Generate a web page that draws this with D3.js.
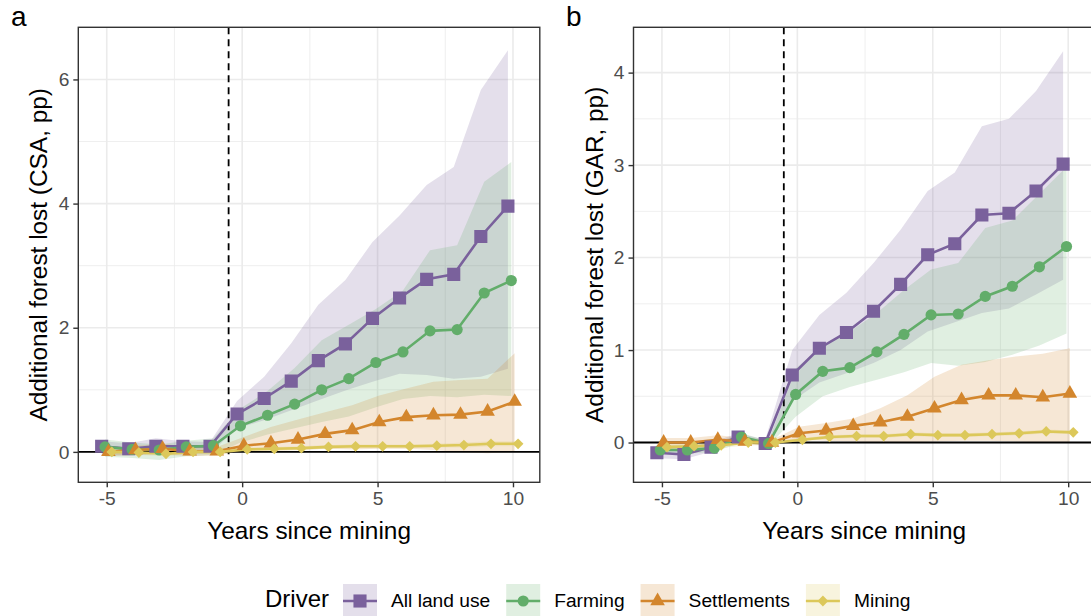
<!DOCTYPE html>
<html>
<head>
<meta charset="utf-8">
<script src="https://cdn.jsdelivr.net/npm/d3@7"></script>
<style>
  body { margin: 0; background: #fff; }
  svg { display: block; font-family: "Liberation Sans", Arial, sans-serif; }
</style>
</head>
<body>
<svg id="chart" width="1091" height="616"></svg>
<script>
// years since mining
var years = [-5, -4, -3, -2, -1, 0, 1, 2, 3, 4, 5, 6, 7, 8, 9, 10];
var drivers = ["All land use", "Farming", "Settlements", "Mining"];

// panel a: CSA
var csaAll    = [0.09, 0.05, 0.09, 0.09, 0.09, 0.61, 0.86, 1.14, 1.47, 1.74, 2.15, 2.48, 2.78, 2.86, 3.47, 3.96];
var csaAllLo  = [-0.05, -0.06, -0.03, -0.03, -0.02, 0.38, 0.51, 0.67, 0.83, 0.99, 1.13, 1.26, 1.24, 1.18, 1.21, 1.34];
var csaAllHi  = [0.17, 0.14, 0.22, 0.17, 0.16, 0.82, 1.21, 1.75, 2.37, 2.77, 3.38, 3.81, 4.30, 4.59, 5.83, 6.47];
var csaFarm   = [0.08, 0.04, 0.03, 0.08, 0.10, 0.42, 0.59, 0.77, 1.00, 1.18, 1.44, 1.61, 1.95, 1.97, 2.56, 2.76];
var csaFarmLo = [-0.08, -0.10, -0.13, -0.07, -0.05, 0.15, 0.28, 0.38, 0.48, 0.57, 0.72, 0.85, 0.90, 0.88, 0.92, 0.90];
var csaFarmHi = [0.20, 0.15, 0.12, 0.18, 0.22, 0.70, 0.98, 1.35, 1.80, 2.05, 2.30, 2.60, 3.25, 3.33, 4.35, 4.67];
var csaSett   = [0.00, 0.03, 0.05, 0.01, 0.01, 0.10, 0.14, 0.20, 0.29, 0.35, 0.48, 0.56, 0.59, 0.60, 0.65, 0.81];
var csaSettLo = [-0.07, -0.05, -0.04, -0.07, -0.06, 0.02, 0.02, 0.03, 0.05, 0.04, 0.05, 0.05, 0.03, 0.00, -0.02, 0.00];
var csaSettHi = [0.07, 0.10, 0.13, 0.08, 0.08, 0.24, 0.40, 0.52, 0.64, 0.75, 0.91, 1.02, 1.13, 1.16, 1.18, 1.59];
var csaMine   = [0.00, -0.01, -0.03, 0.00, 0.00, 0.04, 0.05, 0.06, 0.08, 0.09, 0.09, 0.09, 0.10, 0.11, 0.13, 0.13];
var csaMineLo = [-0.04, -0.05, -0.07, -0.03, -0.03, 0.01, 0.02, 0.03, 0.05, 0.06, 0.06, 0.06, 0.07, 0.07, 0.09, 0.09];
var csaMineHi = [0.04, 0.03, 0.01, 0.03, 0.03, 0.07, 0.08, 0.09, 0.11, 0.12, 0.12, 0.12, 0.13, 0.15, 0.17, 0.17];

// panel b: GAR
var garAll    = [-0.11, -0.13, -0.05, 0.06, -0.01, 0.73, 1.02, 1.19, 1.42, 1.71, 2.03, 2.15, 2.46, 2.48, 2.72, 3.01];
var garAllLo  = [-0.17, -0.18, -0.10, 0.02, -0.04, 0.45, 0.65, 0.75, 0.86, 1.00, 1.20, 1.30, 1.40, 1.45, 1.60, 1.76];
var garAllHi  = [-0.05, -0.06, 0.00, 0.10, 0.03, 1.00, 1.38, 1.62, 1.94, 2.30, 2.72, 2.92, 3.42, 3.50, 3.80, 4.23];
var garFarm   = [-0.08, -0.08, -0.06, 0.06, -0.01, 0.52, 0.77, 0.81, 0.98, 1.17, 1.38, 1.39, 1.58, 1.69, 1.90, 2.12];
var garFarmLo = [-0.12, -0.12, -0.10, 0.00, -0.04, 0.28, 0.50, 0.60, 0.68, 0.76, 0.86, 0.83, 0.87, 0.95, 1.05, 1.18];
var garFarmHi = [-0.03, -0.03, -0.01, 0.10, 0.02, 0.80, 1.05, 1.20, 1.40, 1.65, 1.87, 1.94, 2.32, 2.40, 2.69, 2.98];
var garSett   = [0.00, 0.00, 0.03, 0.01, 0.00, 0.10, 0.13, 0.18, 0.22, 0.28, 0.37, 0.46, 0.51, 0.51, 0.49, 0.53];
var garSettLo = [-0.05, -0.05, -0.02, -0.03, -0.03, 0.03, 0.02, 0.01, 0.00, 0.00, 0.01, 0.02, 0.02, 0.01, 0.00, 0.00];
var garSettHi = [0.05, 0.05, 0.08, 0.05, 0.03, 0.17, 0.21, 0.26, 0.37, 0.51, 0.71, 0.84, 0.89, 0.93, 0.96, 1.02];
var garMine   = [-0.05, -0.04, -0.03, 0.00, 0.00, 0.03, 0.06, 0.07, 0.07, 0.09, 0.08, 0.08, 0.09, 0.10, 0.12, 0.11];
var garMineLo = [-0.08, -0.07, -0.06, -0.03, -0.02, 0.01, 0.04, 0.05, 0.05, 0.07, 0.06, 0.06, 0.07, 0.08, 0.10, 0.09];
var garMineHi = [-0.02, -0.01, 0.00, 0.03, 0.02, 0.05, 0.08, 0.09, 0.09, 0.11, 0.10, 0.10, 0.11, 0.12, 0.14, 0.13];

var xTicks = [-5, 0, 5, 10];
var xMinor = [-2.5, 2.5, 7.5];

var COLORS = ["#7a619c", "#62ad6a", "#d3862d", "#dcc85a"];
var DODGE = [-0.1875, -0.0625, 0.0625, 0.1875];
var SYMBOLS = [
    d3.symbol().type(d3.symbolSquare).size(172),
    d3.symbol().type(d3.symbolCircle).size(98),
    d3.symbol().type(d3.symbolTriangle).size(92),
    d3.symbol().type(d3.symbolSquare).size(58)
];
var ROTATE = [0, 0, 0, 45];

var svg = d3.select("#chart");

function makeSeries(vals) {
    return drivers.map(function(name, k) {
        return years.map(function(yr, i) {
            return { x: yr + DODGE[k], y: vals[k][0][i], lo: vals[k][1][i], hi: vals[k][2][i] };
        });
    });
}

function drawPanel(opt) {
    var x = d3.scaleLinear().domain([-6.05, 10.99]).range([opt.left, opt.left + 461.5]);
    var y = d3.scaleLinear().domain(opt.yDomain).range([482.3, 27.3]);
    var g = svg.append("g");
    var clipId = "clip-" + opt.tag;

    g.append("clipPath").attr("id", clipId)
        .append("rect")
        .attr("x", x.range()[0]).attr("y", 27.3)
        .attr("width", 461.5).attr("height", 455);

    // grid
    var grid = g.append("g");
    grid.selectAll("line.xminor").data(xMinor).enter().append("line")
        .attr("x1", x).attr("x2", x).attr("y1", 27.3).attr("y2", 482.3)
        .attr("stroke", "#ebebeb").attr("stroke-width", 0.8);
    grid.selectAll("line.yminor").data(opt.yMinor).enter().append("line")
        .attr("x1", x.range()[0]).attr("x2", x.range()[1]).attr("y1", y).attr("y2", y)
        .attr("stroke", "#ebebeb").attr("stroke-width", 0.8);
    grid.selectAll("line.xmajor").data(xTicks).enter().append("line")
        .attr("x1", x).attr("x2", x).attr("y1", 27.3).attr("y2", 482.3)
        .attr("stroke", "#ebebeb").attr("stroke-width", 1.6);
    grid.selectAll("line.ymajor").data(opt.yTicks).enter().append("line")
        .attr("x1", x.range()[0]).attr("x2", x.range()[1]).attr("y1", y).attr("y2", y)
        .attr("stroke", "#ebebeb").attr("stroke-width", 1.6);

    var series = makeSeries(opt.vals);
    var plot = g.append("g").attr("clip-path", "url(#" + clipId + ")");

    var area = d3.area()
        .x(function(d) { return x(d.x); })
        .y0(function(d) { return y(d.lo); })
        .y1(function(d) { return y(d.hi); });
    var line = d3.line()
        .x(function(d) { return x(d.x); })
        .y(function(d) { return y(d.y); });

    plot.selectAll("path.ribbon").data(series).enter().append("path")
        .attr("d", area)
        .attr("fill", function(d, k) { return COLORS[k]; })
        .attr("fill-opacity", 0.2);

    // reference lines (under the series)
    plot.append("line")
        .attr("x1", x.range()[0]).attr("x2", x.range()[1])
        .attr("y1", y(0)).attr("y2", y(0))
        .attr("stroke", "#000").attr("stroke-width", 1.9);
    plot.append("line")
        .attr("x1", x(-0.5)).attr("x2", x(-0.5))
        .attr("y1", 27.3).attr("y2", 482.3)
        .attr("stroke", "#000").attr("stroke-width", 1.8)
        .attr("stroke-dasharray", "7,5");

    plot.selectAll("path.line").data(series).enter().append("path")
        .attr("d", line)
        .attr("fill", "none")
        .attr("stroke", function(d, k) { return COLORS[k]; })
        .attr("stroke-width", 2.6);

    series.forEach(function(s, k) {
        plot.selectAll(null).data(s).enter().append("path")
            .attr("d", SYMBOLS[k])
            .attr("transform", function(d) {
                return "translate(" + x(d.x) + "," + y(d.y) + ") rotate(" + ROTATE[k] + ")";
            })
            .attr("fill", COLORS[k]);
    });

    // border
    g.append("rect")
        .attr("x", x.range()[0]).attr("y", 27.3)
        .attr("width", 461.5).attr("height", 455)
        .attr("fill", "none").attr("stroke", "#333").attr("stroke-width", 1.4);

    // axes
    var xAxis = g.append("g").attr("transform", "translate(0,482.3)")
        .call(d3.axisBottom(x).tickValues(xTicks).tickSize(5).tickPadding(4));
    var yAxis = g.append("g").attr("transform", "translate(" + x.range()[0] + ",0)")
        .call(d3.axisLeft(y).tickValues(opt.yTicks).tickSize(5).tickPadding(4).tickFormat(d3.format("d")));
    [xAxis, yAxis].forEach(function(a) {
        a.select(".domain").remove();
        a.selectAll("line").attr("stroke", "#333").attr("stroke-width", 1.4);
        a.selectAll("text").attr("fill", "#4d4d4d")
            .style("font-size", "19.2px").style("font-family", "Liberation Sans, Arial, sans-serif");
    });
    xAxis.selectAll("text").text(function(d) { return d < 0 ? "-" + Math.abs(d) : d; });

    g.append("text")
        .attr("x", (x.range()[0] + x.range()[1]) / 2).attr("y", 539)
        .attr("text-anchor", "middle")
        .style("font-size", "24.4px")
        .text("Years since mining");

    g.append("text")
        .attr("transform", "translate(" + (opt.left - 31) + "," + 254.8 + ") rotate(-90)")
        .attr("text-anchor", "middle")
        .style("font-size", "24.4px")
        .text(opt.yTitle);

    g.append("text")
        .attr("x", opt.tagX).attr("y", 26)
        .style("font-size", "28px")
        .text(opt.tag);
}

drawPanel({
    tag: "a", tagX: 11, left: 78.3,
    yDomain: [-0.49, 6.84], yTicks: [0, 2, 4, 6], yMinor: [1, 3, 5],
    yTitle: "Additional forest lost (CSA, pp)",
    vals: [[csaAll, csaAllLo, csaAllHi], [csaFarm, csaFarmLo, csaFarmHi],
           [csaSett, csaSettLo, csaSettHi], [csaMine, csaMineLo, csaMineHi]]
});

drawPanel({
    tag: "b", tagX: 566, left: 633.5,
    yDomain: [-0.43, 4.49], yTicks: [0, 1, 2, 3, 4], yMinor: [0.5, 1.5, 2.5, 3.5],
    yTitle: "Additional forest lost (GAR, pp)",
    vals: [[garAll, garAllLo, garAllHi], [garFarm, garFarmLo, garFarmHi],
           [garSett, garSettLo, garSettHi], [garMine, garMineLo, garMineHi]]
});

// legend
var legend = svg.append("g");
var lx = 265;
var title = legend.append("text")
    .attr("x", lx).attr("y", 607)
    .style("font-size", "24px")
    .text("Driver");
lx += title.node().getComputedTextLength() + 14;

drivers.forEach(function(name, k) {
    var key = legend.append("g").attr("transform", "translate(" + lx + ",584)");
    key.append("rect")
        .attr("width", 34).attr("height", 35)
        .attr("fill", COLORS[k]).attr("fill-opacity", 0.2);
    key.append("line")
        .attr("x1", 0).attr("x2", 34).attr("y1", 17).attr("y2", 17)
        .attr("stroke", COLORS[k]).attr("stroke-width", 2.6);
    key.append("path")
        .attr("d", SYMBOLS[k])
        .attr("transform", "translate(17,17) rotate(" + ROTATE[k] + ")")
        .attr("fill", COLORS[k]);
    var t = legend.append("text")
        .attr("x", lx + 34 + 14).attr("y", 607)
        .style("font-size", "19.2px")
        .text(name);
    lx += 34 + 14 + t.node().getComputedTextLength() + 16;
});
</script>
</body>
</html>
